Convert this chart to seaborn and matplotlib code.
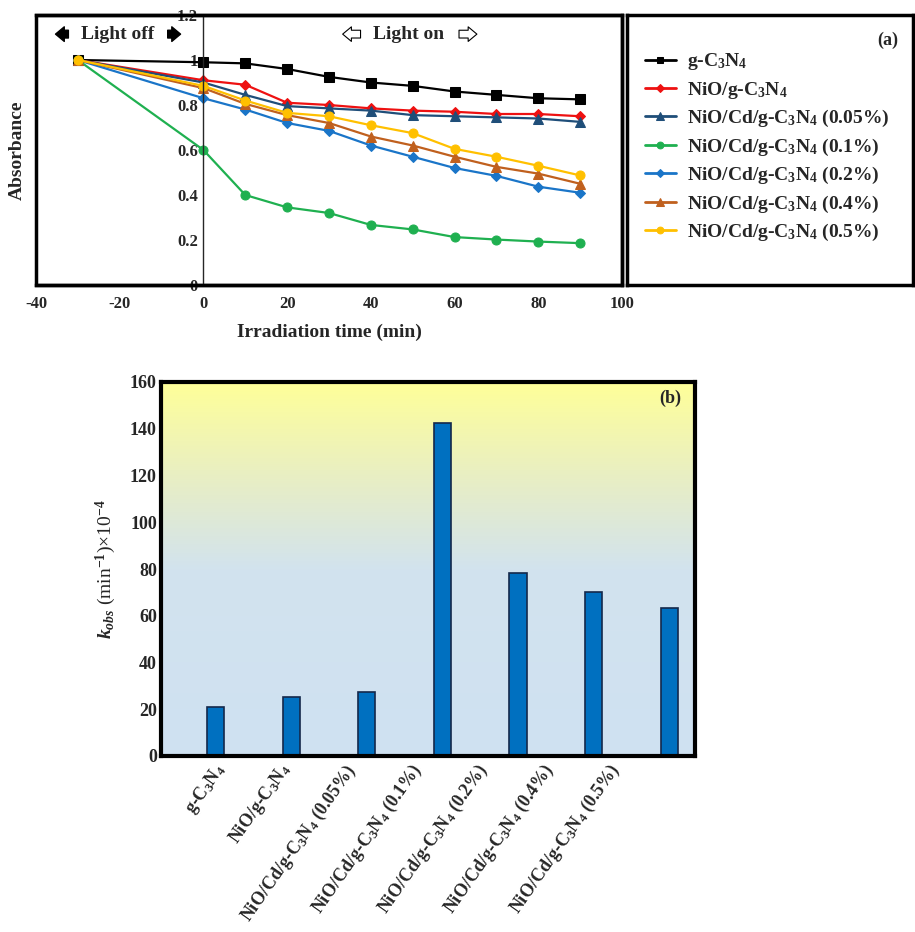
import numpy as np
import pandas as pd
import matplotlib
matplotlib.use('Agg')
import matplotlib.pyplot as plt
from matplotlib.patches import Rectangle
from matplotlib.colors import LinearSegmentedColormap
from matplotlib.transforms import ScaledTranslation
import seaborn as sns

# Dane (a): absorbancja w funkcji czasu
time = [-30, 0, 10, 20, 30, 40, 50, 60, 70, 80, 90]
g_c3n4 = [1.0, 0.99, 0.985, 0.96, 0.925, 0.90, 0.885, 0.86, 0.845, 0.83, 0.825]
nio_gcn = [1.0, 0.91, 0.89, 0.81, 0.80, 0.785, 0.775, 0.77, 0.76, 0.76, 0.75]
cd_005 = [1.0, 0.90, 0.845, 0.795, 0.785, 0.775, 0.755, 0.75, 0.745, 0.74, 0.725]
cd_01 = [1.0, 0.60, 0.40, 0.345, 0.32, 0.267, 0.247, 0.213, 0.202, 0.193, 0.186]
cd_02 = [1.0, 0.83, 0.78, 0.72, 0.685, 0.62, 0.57, 0.52, 0.485, 0.437, 0.41]
cd_04 = [1.0, 0.875, 0.805, 0.755, 0.72, 0.66, 0.62, 0.57, 0.525, 0.495, 0.45]
cd_05 = [1.0, 0.885, 0.82, 0.765, 0.75, 0.71, 0.675, 0.605, 0.57, 0.53, 0.487]

labels = ['g-C$_3$N$_4$', 'NiO/g-C$_3$N$_4$',
          'NiO/Cd/g-C$_3$N$_4$ (0.05%)', 'NiO/Cd/g-C$_3$N$_4$ (0.1%)',
          'NiO/Cd/g-C$_3$N$_4$ (0.2%)', 'NiO/Cd/g-C$_3$N$_4$ (0.4%)',
          'NiO/Cd/g-C$_3$N$_4$ (0.5%)']
series = [g_c3n4, nio_gcn, cd_005, cd_01, cd_02, cd_04, cd_05]
colors = ['#000000', '#EE1111', '#1F4E79', '#1FB050', '#1A75C8', '#C0601E', '#FFC000']
markers = ['s', 'D', '^', 'o', 'D', '^', 'o']
msizes = [6.5, 5, 7, 6.5, 5, 7, 6.5]

# Dane (b): stale szybkosci k_obs
k_obs = [21.0, 25.3, 27.3, 142.5, 78.5, 70.0, 63.2]

sns.set_style('white')
plt.rcParams['font.family'] = ['Liberation Serif', 'DejaVu Serif']
plt.rcParams['font.weight'] = 'bold'
plt.rcParams['mathtext.fontset'] = 'custom'
plt.rcParams['mathtext.rm'] = 'Liberation Serif:bold'
plt.rcParams['mathtext.it'] = 'Liberation Serif:italic:bold'
plt.rcParams['mathtext.bf'] = 'Liberation Serif:bold'
plt.rcParams['mathtext.default'] = 'rm'

fig = plt.figure(figsize=(9.15, 9.32), dpi=100)

# ---------- panel (a) ----------
ax1 = fig.add_axes([36/915, 1 - 285/932, 586/915, 270/932])
for lab, vals, c, m, ms in zip(labels, series, colors, markers, msizes):
    sns.lineplot(x=time, y=vals, ax=ax1, color=c, marker=m, markersize=ms,
                 markeredgecolor=c, linewidth=1.6, label=lab)

ax1.set_xlim(-40, 100)
ax1.set_ylim(0, 1.2)
ax1.spines['left'].set_position(('data', 0))
ax1.spines['left'].set_linewidth(1)
for s in ['top', 'right', 'bottom']:
    ax1.spines[s].set_linewidth(2.5)
ax1.add_patch(Rectangle((0, 0), 1, 1, transform=ax1.transAxes, fill=False,
                        lw=2.5, ec='black', clip_on=False, zorder=5))
ax1.set_xticks(range(-40, 101, 20))
ax1.set_xticklabels(['-40', '-20', '0', '20', '40', '60', '80', '100'])
ax1.set_yticks([0, 0.2, 0.4, 0.6, 0.8, 1.0, 1.2])
ax1.set_yticklabels(['0', '0.2', '0.4', '0.6', '0.8', '1', '1.2'])
ax1.tick_params(axis='both', direction='in', length=6, width=2.5, labelsize=12, pad=4)
ax1.tick_params(axis='x', pad=8)
ax1.set_xlabel('Irradiation time (min)', fontsize=14, fontweight='bold', labelpad=8)
ax1.set_ylabel('Absorbance', fontsize=14, fontweight='bold')
ax1.yaxis.set_label_coords(-0.018, 0.5, transform=ax1.transAxes)
handles, hlabels = ax1.get_legend_handles_labels()
ax1.get_legend().remove()

ax1.text(-20.5, 1.115, 'Light off', ha='center', va='center', fontsize=14, fontweight='bold')
ax1.text(49, 1.115, 'Light on', ha='center', va='center', fontsize=14, fontweight='bold')
solid = dict(arrowstyle='simple,head_length=0.45,head_width=0.75,tail_width=0.4',
             fc='black', ec='black', mutation_scale=14)
hollow = dict(arrowstyle='simple,head_length=0.45,head_width=0.75,tail_width=0.4',
              fc='white', ec='black', lw=0.8, mutation_scale=14)
ax1.annotate('', xy=(-36.0, 1.115), xytext=(-31.6, 1.115), arrowprops=solid)
ax1.annotate('', xy=(-4.8, 1.115), xytext=(-9.2, 1.115), arrowprops=solid)
ax1.annotate('', xy=(32.6, 1.115), xytext=(38.2, 1.115), arrowprops=hollow)
ax1.annotate('', xy=(66.0, 1.115), xytext=(60.4, 1.115), arrowprops=hollow)

# ---------- legend box ----------
axl = fig.add_axes([627/915, 1 - 285/932, 286/915, 270/932])
axl.set_xticks([])
axl.set_yticks([])
for s in axl.spines.values():
    s.set_linewidth(2.5)
    s.set_color('black')
axl.text(0.95, 0.905, '(a)', transform=axl.transAxes, ha='right', va='center',
         fontsize=13, fontweight='bold')
leg = axl.legend(handles, hlabels, loc='upper left', bbox_to_anchor=(0.0, 0.93),
                 frameon=False, fontsize=14, handlelength=1.6, handletextpad=0.6,
                 labelspacing=0.38, markerscale=0.75)
for line in leg.get_lines():
    line.set_linewidth(2)

# ---------- panel (b) ----------
ax2 = fig.add_axes([161/915, 1 - 756/932, 534/915, 374/932])
grad = LinearSegmentedColormap.from_list(
    'bg', [(0.0, '#CFE1F2'), (0.50, '#D2E3EE'), (0.72, '#E6EDC8'), (1.0, '#FFFF99')])
gy = np.linspace(0, 1, 256).reshape(-1, 1)
ax2.imshow(gy, cmap=grad, aspect='auto', origin='lower', extent=[0, 1, 0, 1],
           transform=ax2.transAxes, zorder=0)

df = pd.DataFrame({'sample': labels, 'k': k_obs})
sns.barplot(data=df, x='sample', y='k', order=labels, color='#0070C0', ax=ax2,
            width=0.225, edgecolor='#14284B', linewidth=1.2, saturation=1, zorder=2)
ax2.set_xlim(-0.72, 6.34)
ax2.set_ylim(0, 160)
ax2.set_yticks(range(0, 161, 20))
for s in ax2.spines.values():
    s.set_linewidth(3)
    s.set_color('black')
ax2.tick_params(axis='y', direction='in', length=6, width=3, labelsize=13, pad=3)
ax2.tick_params(axis='x', length=0, labelsize=13, pad=3)
# etykiety osi x przesuniete jak w oryginale (gestszy rozstaw niz slupki)
for i, t in enumerate(ax2.get_xticklabels()):
    t.set_rotation(55)
    t.set_ha('right')
    t.set_rotation_mode('anchor')
    t.set_transform(t.get_transform() +
                    ScaledTranslation(-(3 + 9.8 * i) / 100, 0, fig.dpi_scale_trans))
ax2.set_xlabel('')
ax2.set_ylabel(r'$\mathit{k}_{\mathit{obs}}$ (min$^{-1}$)×10$^{-4}$', fontsize=14)
ax2.yaxis.set_label_coords(-0.08, 0.5)
ax2.text(0.975, 0.955, '(b)', transform=ax2.transAxes, ha='right', va='center',
         fontsize=13, fontweight='bold')

fig.savefig('out.png', dpi=100)
